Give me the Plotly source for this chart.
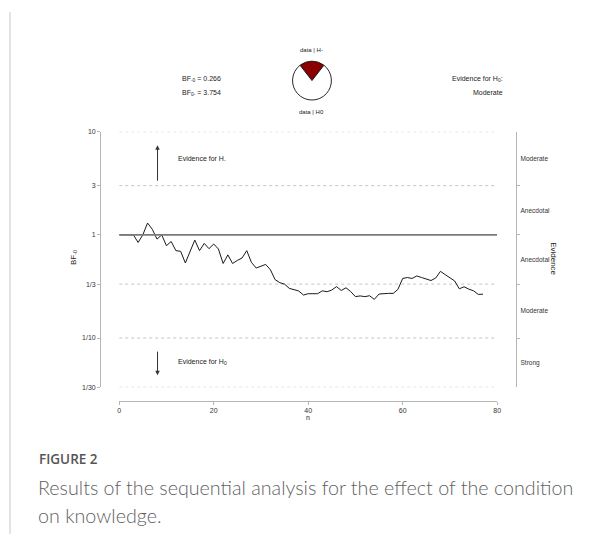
import math
import plotly.graph_objects as go

# reference frame is 614x537; the page body adds an 8px margin, so the figure is
# drawn 8px smaller and every reference pixel coordinate is shifted by 8px.
REF_W, REF_H = 614, 537
OFF = 8
W, H = REF_W - OFF, REF_H - OFF

# ---------------- data ----------------
n_obs = list(range(0, 78))
bf_minus0 = [1.0, 1.0, 1.0, 1.0, 0.844, 1.0, 1.302, 1.134, 0.910, 1.0,
             0.785, 0.863, 0.703, 0.693, 0.534, 0.688, 0.890, 0.703, 0.826, 0.735,
             0.815, 0.730, 0.528, 0.640, 0.528, 0.565, 0.596, 0.703, 0.540, 0.477,
             0.495, 0.517, 0.460, 0.368, 0.344, 0.333, 0.303, 0.295, 0.286, 0.261,
             0.269, 0.269, 0.269, 0.287, 0.281, 0.292, 0.315, 0.289, 0.307, 0.282,
             0.252, 0.256, 0.252, 0.257, 0.237, 0.267, 0.271, 0.271, 0.271, 0.296,
             0.378, 0.386, 0.378, 0.400, 0.386, 0.372, 0.361, 0.382, 0.443, 0.412,
             0.386, 0.358, 0.300, 0.314, 0.298, 0.287, 0.265, 0.266]

bf_final_m0 = 0.266
bf_final_0m = 3.754

y_tick_vals = [1/30, 1/10, 1/3, 1, 3, 10]
y_tick_text = ["1/30", "1/10", "1/3", "1", "3", "10"]
x_tick_vals = [0, 20, 40, 60, 80]
grid_vals = [10, 3, 1/3, 1/10, 1/30]
ref_val = 1
evidence_bounds = [10, 3, 1, 1/3, 1/10, 1/30]
evidence_labels = ["Moderate", "Anecdotal", "Anecdotal", "Moderate", "Strong"]
pie_labels = ["data | H-", "data | H0"]
pie_colors = ["#8B0000", "#ffffff"]
x_range = [0, 80]

# ---------------- helpers ----------------
def px(x):
    return (x - OFF) / W

def py(y):
    return 1 - (y - OFF) / H

evidence_mid = [math.sqrt(a * b) for a, b in zip(evidence_bounds[:-1], evidence_bounds[1:])]

fig = go.Figure()

# dashed grid lines
for g in grid_vals:
    fig.add_trace(go.Scatter(x=x_range, y=[g, g], mode="lines",
                             line=dict(color="#c4c4c4", width=1, dash="3px,3px"),
                             hoverinfo="skip", showlegend=False))

# reference line at BF = 1 (on right axis, same scale)
fig.add_trace(go.Scatter(x=x_range, y=[ref_val, ref_val], mode="lines",
                         line=dict(color="#7a7a7a", width=1.6),
                         hoverinfo="skip", showlegend=False, yaxis="y2"))

# sequential BF line
fig.add_trace(go.Scatter(x=n_obs, y=bf_minus0, mode="lines",
                         line=dict(color="#1a1a1a", width=1),
                         hoverinfo="skip", showlegend=False))

# pie of posterior probabilities
p_minus = bf_final_m0 / (1 + bf_final_m0)
pie_vals = [p_minus, 1 - p_minus]
cx, cy, r = 313, 77.5, 19.7
fig.add_trace(go.Pie(values=pie_vals, labels=pie_labels, sort=False,
                     direction="clockwise", rotation=-p_minus * 360 / 2,
                     marker=dict(colors=pie_colors, line=dict(color="#111111", width=0.9)),
                     textinfo="none", hoverinfo="skip", showlegend=False,
                     domain=dict(x=[px(cx - r), px(cx + r)], y=[py(cy + r), py(cy - r)])))

axis_col = "#b5b5b5"
FONT = "Liberation Sans, Arial"
tick_font = dict(family=FONT, size=7, color="#333333")

fig.update_layout(
    width=W, height=H,
    margin=dict(l=0, r=0, t=0, b=0),
    paper_bgcolor="white", plot_bgcolor="white",
    xaxis=dict(domain=[px(118.3), px(500)], range=x_range, anchor="free",
               position=py(402), showline=True, linecolor=axis_col, linewidth=1,
               ticks="outside", ticklen=3, tickcolor=axis_col, tickvals=x_tick_vals,
               tickfont=tick_font, showgrid=False, zeroline=False),
    yaxis=dict(domain=[py(388.3), py(129.3)], type="log",
               range=[math.log10(1/30), 1], anchor="free", position=px(99),
               showline=True, linecolor=axis_col, linewidth=1,
               ticks="outside", ticklen=3, tickcolor=axis_col,
               tickmode="array", tickvals=y_tick_vals, ticktext=y_tick_text,
               tickfont=tick_font, showgrid=False, zeroline=False),
    yaxis2=dict(overlaying="y", side="right", type="log",
                range=[math.log10(1/30), 1], anchor="free", position=px(519.3),
                showline=True, linecolor=axis_col, linewidth=1,
                ticks="", tickmode="array", tickvals=evidence_mid, ticktext=evidence_labels,
                tickfont=dict(family=FONT, size=6.5, color="#333333"),
                ticklabelstandoff=2,
                minor=dict(tickmode="array", tickvals=evidence_bounds[1:-1],
                           ticks="outside", ticklen=3, tickcolor=axis_col),
                showgrid=False, zeroline=False),
)

txt = dict(family=FONT, size=7, color="#222222")
ann = []
def add_text(x, y, text, xanchor="center", font=None, angle=0):
    ann.append(dict(x=px(x), y=py(y), xref="paper", yref="paper", text=text,
                    showarrow=False, xanchor=xanchor, yanchor="middle",
                    font=font or txt, textangle=angle))

add_text(180, 76, f"BF<sub>-0</sub> = {bf_final_m0:.3f}", "left")
add_text(180, 90, f"BF<sub>0-</sub> = {bf_final_0m:.3f}", "left")
add_text(313, 47, pie_labels[0], font=dict(family=FONT, size=6, color="#222"))
add_text(313, 109, pie_labels[1], font=dict(family=FONT, size=6, color="#222"))
add_text(508, 76, "Evidence for H<sub>0</sub>:", "right")
add_text(508, 90, evidence_labels[3], "right")
add_text(176, 157, "Evidence for H<sub>-</sub>", "left", font=dict(family=FONT, size=7, color="#222"))
add_text(176, 363, "Evidence for H<sub>0</sub>", "left", font=dict(family=FONT, size=7, color="#222"))
add_text(72, 257, "BF<sub>-0</sub>", font=dict(family=FONT, size=8, color="#222"), angle=-90)
add_text(557, 258, "Evidence", font=dict(family=FONT, size=8, color="#222"), angle=90)
add_text(309, 419, "n", font=dict(family=FONT, size=7, color="#222"))

# arrows
ann.append(dict(x=px(157), y=py(143), xref="paper", yref="paper", ax=0, ay=37,
                showarrow=True, arrowhead=2, arrowsize=0.9, arrowwidth=1, arrowcolor="#333", text=""))
ann.append(dict(x=px(157), y=py(376), xref="paper", yref="paper", ax=0, ay=-25,
                showarrow=True, arrowhead=2, arrowsize=0.9, arrowwidth=1, arrowcolor="#333", text=""))

# caption
ann.append(dict(x=px(35), y=py(461.5), xref="paper", yref="paper", text="FIGURE 2",
                showarrow=False, xanchor="left", yanchor="middle",
                font=dict(family="Open Sans", size=13.5, color="#555555", weight=600)))
ann.append(dict(x=px(34), y=py(490), xref="paper", yref="paper",
                text="Results of the sequential analysis for the effect of the condition",
                showarrow=False, xanchor="left", yanchor="middle",
                font=dict(family="Lato", size=19.7, color="#5f5f5f", weight=300)))
ann.append(dict(x=px(34), y=py(518), xref="paper", yref="paper",
                text="on knowledge.",
                showarrow=False, xanchor="left", yanchor="middle",
                font=dict(family="Lato", size=19.7, color="#5f5f5f", weight=300)))

fig.update_layout(annotations=ann,
                  shapes=[dict(type="line", xref="paper", yref="paper",
                               x0=px(8), x1=px(8), y0=0, y1=1,
                               line=dict(color="#c8c8c8", width=1))])

fig.write_html("out.html")
